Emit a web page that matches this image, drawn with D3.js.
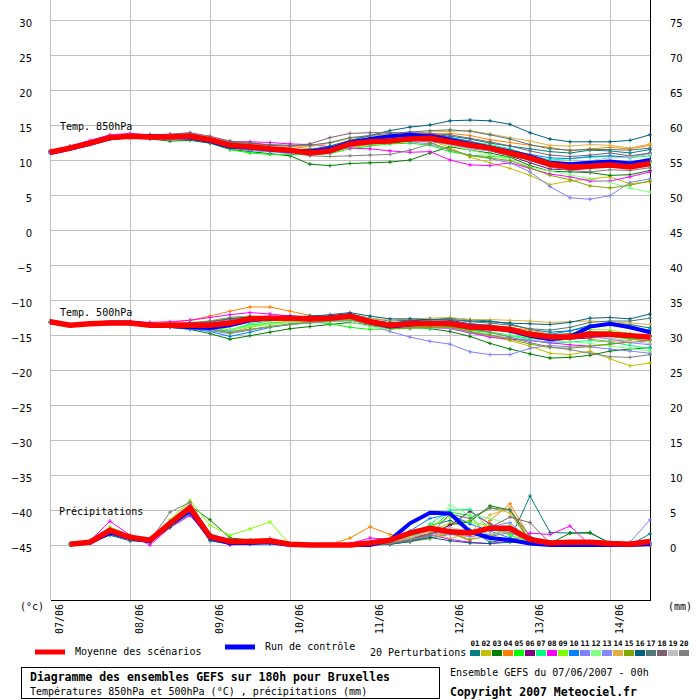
<!DOCTYPE html>
<html>
<head>
<meta charset="utf-8">
<script src="https://cdn.jsdelivr.net/npm/d3@7"></script>
<style>
  body { margin: 0; background: #fff; }
  svg { display: block; }
</style>
</head>
<body>
<svg id="chart" width="700" height="700"></svg>
<script>
// forecast hours (every 6h over 180h)
const hours = [0,6,12,18,24,30,36,42,48,54,60,66,72,78,84,90,96,102,108,114,120,126,132,138,144,150,156,162,168,174,180];
const precipHours = hours.slice(1);

const dayHours = [0,24,48,72,96,120,144,168];
const dayLabels = ['07/06','08/06','09/06','10/06','11/06','12/06','13/06','14/06'];

const leftTicks = [30,25,20,15,10,5,0,-5,-10,-15,-20,-25,-30,-35,-40,-45];
const rightTicks = [75,70,65,60,55,50,45,40,35,30,25,20,15,10,5,0];

const pertNames = ['01','02','03','04','05','06','07','08','09','10','11','12','13','14','15','16','17','18','19','20'];
const pertColors = ['#008080','#c0c000','#008000','#ff8000','#00ff00','#800080','#00ff80','#ff00ff','#80ff00','#0080ff',
                    '#8080ff','#80ff80','#8888ff','#e0b040','#80a800','#006080','#507878','#806070','#c0c0c0','#808080'];

// Temp 850 hPa (°C)
const mean850 = [11.1,11.7,12.4,13.2,13.4,13.3,13.3,13.4,12.9,12.1,11.9,11.6,11.4,11.0,11.3,12.3,12.6,12.7,13.0,13.1,12.6,12.1,11.7,11.0,10.3,9.4,9.0,9.1,9.3,9.0,9.5];
const ctrl850 = [11.0,11.6,12.3,13.1,13.4,13.4,13.3,13.2,12.7,11.9,11.8,11.5,11.3,11.2,11.6,12.5,13.0,13.4,13.6,13.4,12.9,12.3,11.8,11.2,10.5,9.6,9.4,9.6,9.8,9.5,10.0];
const pert850 = [
  [11.2,11.8,12.5,13.3,13.5,13.3,13.2,13.2,12.6,12.0,11.8,11.7,11.5,11.3,11.8,12.4,12.9,13.2,13.6,13.7,13.4,13.0,12.4,12.0,11.6,11.2,11.0,11.4,11.3,11.0,11.5],
  [11.0,11.5,12.2,13.0,13.3,13.2,13.1,13.0,12.5,11.7,11.5,11.4,11.3,11.0,11.2,11.8,12.2,12.6,12.9,12.8,11.8,10.4,9.6,8.8,7.8,6.5,7.0,7.3,7.6,6.6,6.9],
  [11.0,11.6,12.3,13.0,13.2,13.0,12.7,12.8,12.4,11.5,11.2,10.9,10.6,9.4,9.2,9.5,9.6,9.7,10.0,11.0,11.9,11.4,11.0,10.4,9.2,8.4,8.3,8.2,7.8,7.9,8.5],
  [11.2,11.8,12.6,13.3,13.6,13.5,13.5,13.6,13.0,12.4,12.2,12.1,12.0,11.6,11.3,12.2,12.6,12.7,12.8,13.6,13.8,13.5,12.9,12.5,12.1,11.8,11.3,11.6,11.8,11.6,12.1],
  [11.1,11.7,12.4,13.2,13.4,13.2,13.2,13.4,12.8,11.5,11.0,10.8,10.8,10.7,10.9,11.6,12.0,12.3,12.4,12.1,11.2,10.7,10.5,10.4,10.2,9.8,9.6,9.5,9.5,9.5,9.6],
  [11.1,11.8,12.5,13.3,13.5,13.5,13.3,13.3,12.9,12.0,11.7,11.5,11.4,11.0,11.5,12.3,12.5,12.7,13.3,13.7,13.2,12.0,11.3,10.6,9.6,8.7,8.6,8.8,9.4,9.3,9.8],
  [11.1,11.7,12.4,13.2,13.4,13.3,13.3,13.4,12.9,12.1,11.8,11.5,11.3,11.0,11.2,12.0,12.4,12.6,12.8,13.3,13.2,12.6,12.2,11.6,10.7,10.0,10.2,10.4,10.5,10.3,10.6],
  [11.3,12.0,12.8,13.6,13.8,13.6,13.6,13.8,13.2,12.6,12.6,12.5,12.3,12.2,11.9,11.7,11.6,11.3,11.1,11.2,10.0,9.3,9.2,9.6,8.8,8.0,7.6,7.0,7.0,7.6,8.3],
  [11.0,11.6,12.3,13.1,13.3,13.2,13.3,13.4,12.8,12.0,11.7,11.4,11.2,10.9,11.2,12.1,12.4,12.6,12.9,13.0,12.4,11.9,11.4,10.7,9.9,9.2,9.1,9.3,9.4,9.3,9.7],
  [11.0,11.6,12.2,13.0,13.2,13.1,13.0,13.0,12.5,11.7,11.4,11.2,11.2,11.1,11.4,12.6,12.8,12.9,13.2,13.4,13.2,12.7,12.0,11.4,10.8,10.3,10.2,10.5,10.6,10.4,11.0],
  [11.0,11.6,12.3,13.0,13.2,13.1,13.0,13.1,12.6,11.8,11.4,11.2,10.9,10.9,11.3,12.2,12.6,12.8,12.6,12.3,11.4,10.7,10.2,9.6,8.3,6.2,4.6,4.4,4.9,6.8,7.3],
  [11.2,11.8,12.5,13.3,13.5,13.4,13.4,13.5,13.0,12.3,12.0,11.7,11.5,11.2,11.4,12.3,12.6,12.8,13.0,12.8,12.1,11.4,10.8,10.0,9.0,8.4,7.9,7.3,6.8,6.0,5.4],
  [11.1,11.7,12.4,13.1,13.3,13.2,13.2,13.3,12.7,11.9,11.6,11.3,11.1,10.7,11.0,11.9,12.3,12.5,12.8,12.7,12.2,11.6,11.3,10.8,10.0,9.5,9.2,9.4,9.8,9.7,9.9],
  [11.2,11.9,12.6,13.4,13.6,13.5,13.6,13.7,13.2,12.5,12.3,12.1,12.0,11.9,12.4,13.1,13.4,13.6,13.8,14.0,14.1,14.2,13.7,13.2,12.7,12.1,12.0,12.2,12.1,11.7,12.3],
  [11.1,11.7,12.5,13.2,13.4,13.4,13.3,13.4,12.9,12.2,11.9,11.7,11.5,11.3,11.7,12.4,12.7,12.8,13.0,12.5,11.5,10.6,10.3,9.9,8.9,7.8,7.2,6.3,6.0,6.4,7.0],
  [11.1,11.7,12.4,13.2,13.4,13.3,13.2,13.2,12.7,12.0,11.8,11.6,11.5,11.5,12.0,12.8,13.5,14.2,14.7,15.0,15.6,15.7,15.6,15.1,13.9,13.0,12.6,12.6,12.6,12.8,13.6],
  [11.2,11.8,12.5,13.2,13.5,13.4,13.4,13.5,13.1,12.5,12.4,12.2,12.1,12.1,12.5,13.2,13.5,13.8,14.0,14.2,14.3,14.1,13.6,13.0,12.2,11.6,11.4,11.5,11.5,11.4,11.7],
  [11.2,11.9,12.6,13.4,13.6,13.6,13.7,13.9,13.4,12.7,12.5,12.1,12.0,12.3,13.2,13.8,13.9,13.9,13.9,13.8,13.6,13.1,12.6,12.0,11.3,10.7,10.5,10.7,11.0,10.6,11.0],
  [11.0,11.6,12.3,13.0,13.2,13.1,13.1,13.2,12.6,11.9,11.7,11.5,11.4,11.3,11.6,12.3,12.6,12.8,13.0,12.9,12.2,11.7,11.4,10.9,10.2,9.5,9.5,9.9,10.3,10.4,10.8],
  [11.1,11.7,12.4,13.1,13.3,13.3,13.2,13.3,12.8,12.0,11.6,11.4,11.3,10.6,10.5,10.6,10.7,10.8,11.4,12.3,12.9,12.6,12.0,11.1,9.9,9.0,8.5,8.3,8.6,8.5,8.9]
];

// Temp 500 hPa (°C)
const mean500 = [-13.1,-13.6,-13.4,-13.3,-13.3,-13.6,-13.6,-13.6,-13.6,-13.3,-12.7,-12.6,-12.6,-12.7,-12.6,-12.3,-13.1,-13.6,-13.4,-13.4,-13.4,-13.9,-14.0,-14.2,-14.9,-15.3,-15.3,-14.9,-14.9,-15.1,-15.3];
const ctrl500 = [-13.1,-13.6,-13.4,-13.2,-13.2,-13.5,-13.7,-13.9,-14.0,-13.6,-12.9,-12.6,-12.5,-12.6,-12.5,-12.2,-13.2,-13.8,-13.5,-13.3,-13.3,-13.8,-13.9,-14.4,-15.1,-15.6,-15.3,-13.8,-13.4,-13.9,-14.6];
const pert500 = [
  [-13.1,-13.6,-13.4,-13.3,-13.2,-13.4,-13.4,-13.3,-13.0,-12.5,-12.3,-12.4,-12.5,-12.6,-12.3,-12.0,-12.6,-13.0,-12.9,-12.8,-12.6,-12.8,-13.0,-13.4,-14.2,-14.6,-14.4,-13.6,-13.3,-13.5,-14.0],
  [-13.1,-13.6,-13.4,-13.3,-13.3,-13.6,-13.8,-14.0,-14.2,-14.6,-13.9,-13.3,-13.0,-12.9,-12.6,-12.4,-13.1,-13.6,-13.8,-13.9,-14.0,-14.6,-15.2,-15.8,-16.6,-17.6,-17.8,-17.3,-18.4,-19.4,-19.0],
  [-13.1,-13.6,-13.4,-13.3,-13.4,-13.7,-13.9,-14.2,-14.8,-15.6,-15.1,-14.6,-14.1,-13.8,-13.5,-13.2,-13.6,-14.0,-14.0,-14.1,-14.5,-15.2,-16.2,-17.0,-17.7,-18.3,-18.2,-17.9,-17.3,-17.0,-16.8],
  [-13.1,-13.6,-13.4,-13.3,-13.2,-13.4,-13.2,-12.9,-12.3,-11.6,-11.0,-11.0,-11.6,-12.2,-12.4,-12.4,-13.2,-13.9,-13.6,-13.3,-13.2,-13.5,-13.6,-13.9,-14.3,-14.9,-15.2,-15.6,-15.9,-15.7,-15.4],
  [-13.1,-13.6,-13.4,-13.3,-13.3,-13.5,-13.7,-13.9,-14.3,-14.4,-13.6,-13.3,-13.2,-13.1,-13.4,-13.9,-14.2,-14.1,-13.8,-13.6,-13.8,-14.3,-14.6,-15.0,-15.5,-15.7,-15.3,-15.0,-15.2,-15.6,-15.8],
  [-13.1,-13.6,-13.4,-13.3,-13.3,-13.6,-13.6,-13.5,-13.4,-13.2,-12.8,-12.5,-12.5,-12.6,-12.5,-12.2,-12.9,-13.3,-13.0,-12.8,-12.9,-13.4,-13.7,-14.0,-14.7,-15.4,-15.6,-15.4,-15.2,-15.0,-15.1],
  [-13.1,-13.6,-13.4,-13.3,-13.3,-13.6,-13.7,-13.8,-14.0,-14.3,-13.4,-13.0,-12.8,-12.7,-12.5,-12.3,-13.3,-14.0,-14.1,-14.0,-13.9,-14.3,-14.7,-15.1,-15.7,-16.2,-16.0,-15.8,-16.0,-16.5,-16.9],
  [-13.1,-13.6,-13.3,-13.2,-13.1,-13.2,-13.1,-12.9,-12.5,-12.1,-11.8,-12.0,-12.3,-12.5,-12.5,-12.3,-13.2,-13.9,-14.0,-13.9,-14.1,-14.7,-15.3,-15.6,-15.8,-16.1,-16.4,-16.6,-16.3,-16.0,-15.7],
  [-13.1,-13.6,-13.4,-13.3,-13.3,-13.5,-13.6,-13.7,-13.9,-14.2,-13.8,-13.5,-13.2,-13.0,-12.9,-12.8,-13.4,-13.9,-13.8,-13.7,-13.6,-13.9,-14.0,-14.3,-14.8,-15.0,-14.8,-14.2,-14.3,-14.8,-15.2],
  [-13.1,-13.6,-13.4,-13.3,-13.3,-13.6,-13.8,-14.1,-14.5,-15.2,-14.6,-13.9,-13.5,-13.2,-12.9,-12.6,-13.4,-14.0,-13.7,-13.5,-13.3,-13.7,-13.9,-14.2,-14.6,-14.9,-14.4,-13.8,-13.6,-13.9,-14.3],
  [-13.1,-13.6,-13.4,-13.3,-13.4,-13.7,-13.9,-14.1,-14.4,-14.8,-14.3,-13.8,-13.4,-13.1,-12.9,-12.7,-13.6,-14.5,-15.3,-15.9,-16.3,-17.4,-17.8,-17.8,-16.9,-16.5,-16.7,-16.7,-17.0,-17.3,-17.6],
  [-13.1,-13.6,-13.4,-13.3,-13.3,-13.5,-13.6,-13.8,-14.0,-14.3,-13.7,-13.4,-13.2,-13.1,-13.0,-13.1,-13.8,-14.2,-14.1,-13.9,-14.0,-14.5,-14.8,-15.0,-15.3,-15.8,-16.0,-16.2,-16.6,-16.9,-17.3],
  [-13.1,-13.6,-13.4,-13.3,-13.3,-13.6,-13.8,-14.0,-14.1,-14.5,-14.2,-13.8,-13.5,-13.3,-13.1,-12.9,-13.5,-14.1,-14.0,-13.9,-14.0,-14.6,-15.1,-15.4,-15.8,-16.0,-15.5,-15.2,-15.6,-16.1,-16.4],
  [-13.1,-13.6,-13.4,-13.3,-13.2,-13.4,-13.3,-13.2,-13.0,-12.6,-12.3,-12.4,-12.6,-12.7,-12.6,-12.3,-12.6,-12.9,-12.7,-12.6,-12.5,-12.8,-12.8,-12.9,-13.0,-13.2,-13.1,-13.0,-13.1,-13.3,-13.5],
  [-13.1,-13.6,-13.4,-13.3,-13.3,-13.6,-13.7,-13.9,-14.2,-14.7,-14.2,-13.8,-13.5,-13.2,-13.0,-12.8,-13.5,-14.1,-14.0,-13.9,-13.9,-14.5,-15.0,-15.6,-16.3,-16.8,-16.9,-16.6,-16.3,-16.0,-15.8],
  [-13.1,-13.6,-13.4,-13.3,-13.2,-13.4,-13.4,-13.3,-13.1,-12.7,-12.4,-12.4,-12.4,-12.3,-12.1,-11.8,-12.3,-12.7,-12.7,-12.8,-12.8,-13.0,-13.1,-13.3,-13.4,-13.5,-13.2,-12.6,-12.5,-12.7,-12.0],
  [-13.1,-13.6,-13.4,-13.3,-13.3,-13.5,-13.5,-13.4,-13.3,-13.0,-12.7,-12.6,-12.5,-12.5,-12.4,-12.2,-12.9,-13.3,-13.1,-12.9,-12.8,-13.1,-13.3,-13.6,-14.1,-14.3,-13.9,-13.2,-13.0,-13.0,-12.6],
  [-13.1,-13.6,-13.4,-13.3,-13.2,-13.4,-13.4,-13.3,-13.1,-12.8,-12.5,-12.4,-12.4,-12.4,-12.3,-12.1,-12.8,-13.3,-13.2,-13.1,-13.1,-13.4,-13.6,-14.0,-14.6,-15.0,-14.8,-14.5,-14.6,-14.9,-15.2],
  [-13.1,-13.6,-13.4,-13.3,-13.3,-13.5,-13.6,-13.7,-13.8,-13.7,-13.2,-12.9,-12.8,-12.8,-12.7,-12.5,-13.1,-13.6,-13.6,-13.5,-13.5,-14.0,-14.2,-14.5,-15.0,-15.3,-15.2,-15.0,-15.4,-15.9,-16.2],
  [-13.1,-13.6,-13.4,-13.3,-13.3,-13.5,-13.6,-13.6,-13.6,-13.4,-12.9,-12.7,-12.6,-12.6,-12.5,-12.3,-13.0,-13.5,-13.4,-13.3,-13.4,-14.0,-14.6,-15.3,-16.1,-16.7,-17.1,-17.6,-18.1,-18.2,-17.8]
];

// Precipitation (mm per 6h), from +6h
const meanPrecip = [0.1,0.4,2.1,1.1,0.7,3.1,5.3,1.2,0.5,0.5,0.6,0.1,0.0,0.0,0.0,0.3,0.7,1.7,2.4,1.9,1.7,2.4,2.4,0.8,0.3,0.4,0.4,0.2,0.1,0.5];
const ctrlPrecip = [0.1,0.3,1.8,1.0,0.6,3.0,4.9,1.0,0.3,0.3,0.4,0.0,0.0,0.0,0.0,0.0,0.7,3.1,4.6,4.5,1.9,1.0,0.7,0.2,0.0,0.0,0.0,0.0,0.0,0.1];
const pertPrecip = [
  [0.1,0.3,1.7,0.8,0.3,2.8,4.6,0.9,0.2,0.2,0.3,0.0,0.0,0.0,0.0,0.0,0.3,1.4,2.8,3.5,2.2,0.4,0.8,7.0,1.8,1.7,1.8,0.2,0.0,1.6],
  [0.1,0.5,2.4,1.3,0.9,3.4,5.9,1.6,0.6,0.6,0.5,0.0,0.0,0.0,0.0,0.0,0.2,0.9,2.0,3.1,3.5,5.3,4.6,0.4,0.1,0.2,0.3,0.1,0.0,0.2],
  [0.1,0.4,2.0,1.2,0.8,3.3,5.6,3.6,1.0,0.7,0.4,0.0,0.0,0.0,0.0,0.0,0.1,0.5,1.4,2.9,3.3,5.6,5.0,0.5,0.2,1.7,1.7,0.3,0.0,0.0],
  [0.1,0.5,2.3,1.3,0.6,3.2,5.7,1.4,0.5,0.5,0.4,0.0,0.0,0.1,1.0,2.6,1.5,1.0,1.2,1.8,0.6,3.5,5.9,1.1,0.3,0.1,0.0,0.0,0.0,0.0],
  [0.1,0.3,1.9,1.0,0.6,3.0,5.2,1.5,0.4,0.3,0.3,0.0,0.0,0.0,0.0,0.0,0.5,1.2,2.2,4.7,4.2,1.0,0.6,0.3,0.1,0.0,0.0,0.0,0.0,0.1],
  [0.1,0.4,2.2,1.2,0.8,3.3,5.4,1.3,0.5,0.4,0.4,0.0,0.0,0.0,0.0,0.0,0.4,1.0,1.6,2.8,4.8,3.0,2.0,0.5,0.2,0.1,0.0,0.1,0.0,0.3],
  [0.1,0.4,2.0,1.1,0.7,3.1,5.0,1.0,0.4,0.4,0.5,0.0,0.0,0.0,0.0,0.0,0.2,0.8,3.0,5.0,5.1,2.3,1.5,0.3,0.0,0.0,0.0,0.0,0.1,0.0],
  [0.2,0.6,3.4,1.4,0.0,2.5,4.2,1.0,0.0,0.2,0.3,0.0,0.0,0.0,0.2,1.0,0.8,0.9,1.5,0.8,0.4,0.2,0.6,1.7,1.5,2.7,0.0,0.0,0.0,0.2],
  [0.1,0.5,2.6,1.3,0.8,3.6,6.4,2.8,1.4,2.3,3.3,0.1,0.0,0.0,0.0,0.0,0.3,1.2,2.6,4.0,3.2,2.8,1.3,0.6,0.2,0.0,0.0,0.0,0.0,0.1],
  [0.1,0.3,1.5,0.8,0.5,2.7,4.4,0.9,0.2,0.3,0.3,0.0,0.0,0.0,0.0,0.0,0.4,2.0,3.8,4.4,3.0,2.0,1.0,0.4,0.1,0.0,0.2,0.0,0.0,0.2],
  [0.1,0.4,1.8,1.0,0.5,2.9,4.8,1.1,0.3,0.4,0.6,0.0,0.0,0.0,0.0,0.0,0.2,0.6,1.0,1.5,1.2,1.6,2.0,0.6,0.3,0.3,0.4,0.4,0.4,3.6],
  [0.1,0.4,2.2,1.2,0.7,3.2,5.9,1.5,0.5,0.5,0.6,0.0,0.0,0.0,0.0,0.0,0.5,1.5,2.7,5.7,4.3,3.8,3.0,0.8,0.2,0.0,0.0,0.0,0.0,0.0],
  [0.1,0.4,2.0,1.1,0.6,3.0,4.9,1.2,0.6,0.6,0.5,0.0,0.0,0.0,0.0,0.0,0.2,0.7,1.2,2.0,1.5,2.6,3.2,0.6,0.1,0.5,0.5,0.1,0.0,0.4],
  [0.1,0.5,2.4,1.2,0.6,3.3,6.2,1.2,0.4,0.3,0.4,0.0,0.0,0.0,0.0,0.0,0.3,0.9,1.9,0.9,1.8,4.3,5.3,0.6,0.1,0.0,0.0,0.0,0.0,0.0],
  [0.1,0.4,2.1,1.1,0.7,3.1,5.1,1.3,0.5,0.4,0.5,0.0,0.0,0.0,0.0,0.0,0.2,0.5,0.9,1.7,0.8,1.3,2.2,0.3,0.1,0.0,0.1,0.0,0.0,0.0],
  [0.1,0.3,1.4,0.6,0.4,2.5,4.6,0.6,0.1,0.1,0.2,0.0,0.0,0.0,0.0,0.0,0.1,0.5,1.1,0.6,0.3,0.2,0.4,0.3,0.0,0.0,0.0,0.0,0.0,0.0],
  [0.1,0.4,1.9,0.9,0.5,3.2,5.7,1.6,0.6,0.4,0.4,0.0,0.0,0.0,0.0,0.0,0.2,0.6,1.5,4.4,3.8,5.3,5.0,1.2,0.2,0.0,0.0,0.0,0.0,0.0],
  [0.1,0.4,2.0,1.0,0.6,3.0,5.4,1.0,0.4,0.5,0.5,0.0,0.0,0.0,0.0,0.0,0.3,0.8,1.6,2.2,1.8,2.5,4.0,3.2,0.3,0.0,0.0,0.0,0.0,0.0],
  [0.1,0.4,2.2,1.2,0.7,3.4,6.0,1.5,0.6,0.6,1.0,0.0,0.0,0.0,0.0,0.0,0.4,1.0,2.1,2.5,2.0,1.6,1.9,0.4,0.1,0.0,0.0,0.0,0.0,0.1],
  [0.1,0.4,1.9,1.0,0.6,4.7,6.1,1.4,0.5,0.5,0.9,0.0,0.0,0.0,0.0,0.0,0.2,0.7,1.5,2.1,1.6,1.2,1.8,0.5,0.2,0.0,0.0,0.0,0.0,0.0]
];

const MONO = "'DejaVu Sans Mono', monospace";
const SANS = "'DejaVu Sans', sans-serif";
const GRID = '#c0c0c0';

const svg = d3.select('#chart');

const x = d3.scaleLinear().domain([0, 180]).range([50, 650]);
const y = d3.scaleLinear().domain([-45, 30]).range([545, 20]);
const yMm = d3.scaleLinear().domain([0, 75]).range([545, 20]);

// horizontal grid + left labels
const leftAxis = svg.append('g')
    .attr('transform', 'translate(' + x(0) + ',0)')
    .call(d3.axisLeft(y).tickValues(leftTicks).tickSize(-600).tickPadding(18));
leftAxis.select('.domain').remove();
leftAxis.selectAll('.tick line').attr('stroke', GRID).attr('shape-rendering', 'crispEdges');
leftAxis.selectAll('.tick text')
    .attr('dy', '0.62em')
    .style('font-family', SANS).style('font-size', '10px').attr('fill', '#000');

// vertical grid + day labels
const xAxis = svg.append('g')
    .attr('transform', 'translate(0,600)')
    .call(d3.axisBottom(x).tickValues(dayHours).tickSize(-600).tickSizeOuter(0)
        .tickFormat((d, i) => dayLabels[i]));
xAxis.select('.domain').attr('stroke', '#000').attr('shape-rendering', 'crispEdges');
xAxis.selectAll('.tick line').attr('stroke', GRID).attr('shape-rendering', 'crispEdges');
xAxis.selectAll('.tick text')
    .attr('transform', 'rotate(-90)')
    .attr('x', -4).attr('y', 12).attr('dy', 0)
    .attr('text-anchor', 'end')
    .style('font-family', MONO).style('font-size', '10px').attr('fill', '#000');

// right frame + mm labels
svg.append('line')
    .attr('x1', x(180)).attr('x2', x(180)).attr('y1', 0).attr('y2', 600)
    .attr('stroke', '#000').attr('shape-rendering', 'crispEdges');
const rightAxis = svg.append('g')
    .attr('transform', 'translate(' + x(180) + ',0)')
    .call(d3.axisRight(yMm).tickValues(rightTicks).tickSize(0).tickPadding(20));
rightAxis.select('.domain').remove();
rightAxis.selectAll('.tick text')
    .attr('dy', '0.62em')
    .style('font-family', SANS).style('font-size', '10px').attr('fill', '#000');

const text = (tx, ty, str, size, bold, anchor) => svg.append('text')
    .attr('x', tx).attr('y', ty)
    .attr('text-anchor', anchor || 'start')
    .style('font-family', MONO).style('font-size', size + 'px')
    .style('font-weight', bold ? 'bold' : 'normal')
    .text(str);

text(20, 610, '(°c)', 10);
text(668, 610, '(mm)', 10);
text(60, 130, 'Temp. 850hPa', 10);
text(60, 316, 'Temp. 500hPa', 10);
text(59, 515, 'Précipitations', 10);

// one ensemble block: perturbations, control, mean
const drawBlock = (xs, perts, ctrl, mean, yScale) => {
    const line = d3.line().x((d, i) => x(xs[i])).y(d => yScale(d));
    const g = svg.append('g');

    perts.forEach((series, k) => {
        g.append('path')
            .attr('d', line(series))
            .attr('fill', 'none')
            .attr('stroke', pertColors[k])
            .attr('stroke-width', 1);
        g.selectAll(null)
            .data(series)
            .enter().append('path')
            .attr('transform', (d, i) => 'translate(' + x(xs[i]) + ',' + yScale(d) + ')')
            .attr('d', 'M-2,0H2M0,-2V2')
            .attr('stroke', pertColors[k])
            .attr('stroke-width', 1);
    });

    g.append('path')
        .attr('d', line(ctrl))
        .attr('fill', 'none')
        .attr('stroke', '#0000ff')
        .attr('stroke-width', 4);

    g.append('path')
        .attr('d', line(mean))
        .attr('fill', 'none')
        .attr('stroke', '#ff0000')
        .attr('stroke-width', 5.5);
};

drawBlock(hours, pert850, ctrl850, mean850, y);
drawBlock(hours, pert500, ctrl500, mean500, y);
drawBlock(precipHours, pertPrecip, ctrlPrecip, meanPrecip, yMm);

// legend
svg.append('line').attr('x1', 35).attr('x2', 65).attr('y1', 652).attr('y2', 652)
    .attr('stroke', '#ff0000').attr('stroke-width', 5);
text(75, 655, 'Moyenne des scénarios', 10);
svg.append('line').attr('x1', 225).attr('x2', 255).attr('y1', 647).attr('y2', 647)
    .attr('stroke', '#0000ff').attr('stroke-width', 5);
text(265, 650, 'Run de contrôle', 10);
text(370, 656, '20 Perturbations', 10);

const legend = svg.append('g').attr('transform', 'translate(470,0)');
legend.selectAll('rect')
    .data(pertNames)
    .enter().append('rect')
    .attr('x', (d, i) => i * 11).attr('y', 650)
    .attr('width', 10).attr('height', 6)
    .attr('fill', (d, i) => pertColors[i]);
legend.selectAll('text')
    .data(pertNames)
    .enter().append('text')
    .attr('x', (d, i) => i * 11 + 5).attr('y', 646)
    .attr('text-anchor', 'middle')
    .style('font-family', MONO).style('font-size', '7.5px').style('font-weight', 'bold')
    .text(d => d);

// footer
svg.append('rect')
    .attr('x', 21.5).attr('y', 667.5).attr('width', 418).attr('height', 31)
    .attr('fill', 'none').attr('stroke', '#000');
text(30, 681, 'Diagramme des ensembles GEFS sur 180h pour Bruxelles', 11.5, true);
text(30, 695, 'Températures 850hPa et 500hPa (°C) , précipitations (mm)', 10);
text(450, 676, 'Ensemble GEFS du 07/06/2007 - 00h', 10);
text(450, 696, 'Copyright 2007 Meteociel.fr', 11.5, true);
</script>
</body>
</html>
